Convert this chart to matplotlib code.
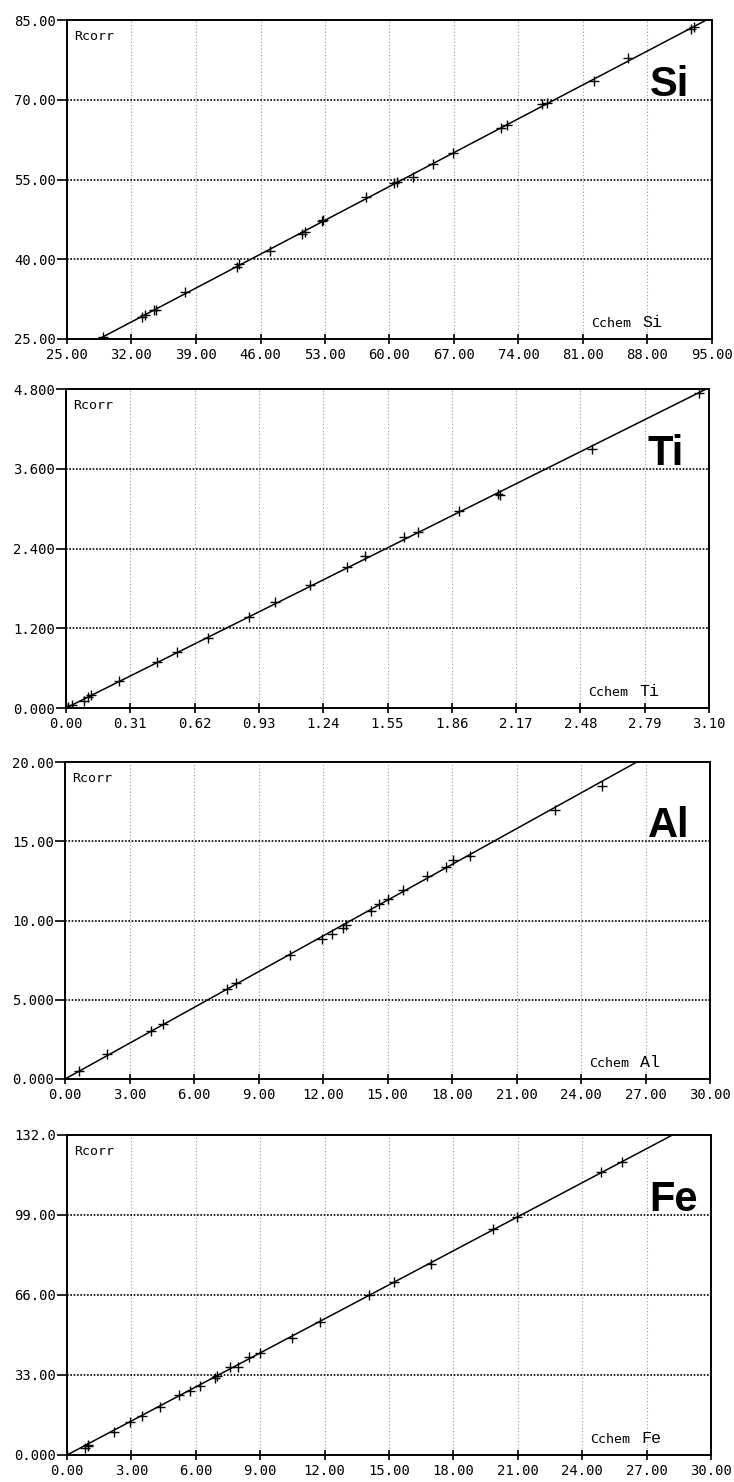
import numpy as np
import matplotlib.pyplot as plt

# Si
si_x = [28.9, 33.1, 33.5, 34.4, 34.7, 37.8, 43.5, 43.7, 47.0, 50.5, 50.8, 52.7, 52.8,
        57.5, 60.5, 60.8, 62.5, 64.7, 66.9, 72.1, 72.8, 76.6, 77.1, 82.2, 85.9, 92.7, 93.0]
si_y = [25.4, 29.1, 29.5, 30.4, 30.5, 33.9, 38.6, 39.1, 41.6, 44.7, 45.1, 47.2, 47.4,
        51.7, 54.4, 54.6, 55.5, 58.0, 59.9, 64.6, 65.2, 69.2, 69.4, 73.5, 77.8, 83.4, 83.6]
si_fit = (0.910, -0.9)
si_xticks = ["25.00", "32.00", "39.00", "46.00", "53.00", "60.00", "67.00", "74.00", "81.00", "88.00", "95.00"]
si_yticks = ["25.00", "40.00", "55.00", "70.00", "85.00"]

# Ti
ti_x = [0.0, 0.01, 0.03, 0.085, 0.105, 0.12, 0.254, 0.44, 0.535, 0.685, 0.88, 1.006,
        1.178, 1.355, 1.44, 1.63, 1.695, 1.893, 2.081, 2.09, 2.536, 3.05]
ti_y = [0.0, 0.01, 0.04, 0.106, 0.166, 0.19, 0.40, 0.69, 0.845, 1.06, 1.37, 1.60,
        1.85, 2.12, 2.28, 2.57, 2.65, 2.97, 3.22, 3.21, 3.90, 4.74]
ti_fit = (1.555, 0.0)
ti_xticks = ["0.00", "0.31", "0.62", "0.93", "1.24", "1.55", "1.86", "2.17", "2.48", "2.79", "3.10"]
ti_yticks = ["0.000", "1.200", "2.400", "3.600", "4.800"]

# Al
al_x = [0.65, 1.97, 3.99, 4.55, 7.52, 7.96, 10.47, 11.94, 12.4, 12.95, 13.07,
        14.22, 14.61, 15.0, 15.74, 16.82, 17.72, 18.03, 18.85, 22.79, 24.97]
al_y = [0.48, 1.58, 3.0, 3.47, 5.68, 6.06, 7.84, 8.85, 9.15, 9.53, 9.73,
        10.6, 11.03, 11.35, 11.94, 12.82, 13.35, 13.83, 14.09, 16.99, 18.5]
al_fit = (0.752, 0.0)
al_xticks = ["0.00", "3.00", "6.00", "9.00", "12.00", "15.00", "18.00", "21.00", "24.00", "27.00", "30.00"]
al_yticks = ["0.000", "5.000", "10.00", "15.00", "20.00"]

# Fe
fe_x = [0.0, 0.85, 0.96, 1.0, 2.17, 2.95, 3.49, 4.31, 5.2, 5.74, 6.21, 6.91, 7.0,
        7.61, 7.95, 8.5, 9.0, 10.48, 11.8, 14.08, 15.22, 16.96, 19.83, 20.96, 24.87, 25.85]
fe_y = [0.0, 2.75, 3.7, 4.1, 9.6, 13.8, 16.1, 19.7, 24.8, 26.4, 28.6, 31.9, 32.6,
        36.4, 36.4, 40.6, 42.0, 48.4, 55.0, 66.0, 71.3, 78.7, 93.3, 98.3, 116.8, 121.0]
fe_fit = (4.68, 0.0)
fe_xticks = ["0.00", "3.00", "6.00", "9.00", "12.00", "15.00", "18.00", "21.00", "24.00", "27.00", "30.00"]
fe_yticks = ["0.000", "33.00", "66.00", "99.00", "132.0"]

panels = [
    ("Si", si_x, si_y, si_fit, si_xticks, si_yticks, (67, 712, 20, 339)),
    ("Ti", ti_x, ti_y, ti_fit, ti_xticks, ti_yticks, (66, 709, 389, 708)),
    ("Al", al_x, al_y, al_fit, al_xticks, al_yticks, (65, 710, 762, 1079)),
    ("Fe", fe_x, fe_y, fe_fit, fe_xticks, fe_yticks, (67, 711, 1135, 1455)),
]

W, H = 734, 1482
fig = plt.figure(figsize=(W / 100, H / 100), dpi=100)
mono = "DejaVu Sans Mono"

for name, xs, ys, fit, xt, yt, (l, r, t, b) in panels:
    ax = fig.add_axes([l / W, 1 - b / H, (r - l) / W, (b - t) / H])
    xv = [float(s) for s in xt]
    yv = [float(s) for s in yt]
    ax.set_xlim(xv[0], xv[-1])
    ax.set_ylim(yv[0], yv[-1])

    # grid: light vertical dots, dark horizontal dots
    for v in xv[1:-1]:
        ax.axvline(v, color="0.6", lw=0.8, ls=(0, (1, 2)), zorder=1)
    for v in yv[1:-1]:
        ax.axhline(v, color="black", lw=1.2, ls=(0, (1, 1)), zorder=1)

    # calibration line and points
    lx = np.array([xv[0], xv[-1]])
    ax.plot(lx, fit[0] * lx + fit[1], color="black", lw=1.1, zorder=2)
    ax.plot(xs, ys, ls="none", marker="+", ms=6.5, mew=1.0, color="black", zorder=3)

    ax.set_xticks(xv)
    ax.set_xticklabels(xt, fontfamily=mono, fontsize=10)
    ax.set_yticks(yv)
    ax.set_yticklabels(yt, fontfamily=mono, fontsize=10)
    ax.tick_params(axis="x", direction="inout", length=7, width=1.2, pad=3)
    ax.tick_params(axis="y", direction="out", length=7, width=1.2, pad=1)
    for sp in ax.spines.values():
        sp.set_linewidth(1.4)

    ax.text(0.011, 0.968, "Rcorr", transform=ax.transAxes, fontfamily=mono,
            fontsize=9.5, va="top", ha="left")
    ax.text(0.812, 0.038, "Cchem", transform=ax.transAxes, fontfamily=mono,
            fontsize=9.5, va="baseline", ha="left")
    ax.text(0.892, 0.038, name, transform=ax.transAxes, fontfamily="Liberation Mono",
            fontsize=12, va="baseline", ha="left")
    ax.text(0.904, 0.762, name, transform=ax.transAxes, fontfamily="Liberation Sans",
            fontweight="bold", fontsize=30, va="baseline", ha="left")

fig.savefig("out.png", dpi=100)
